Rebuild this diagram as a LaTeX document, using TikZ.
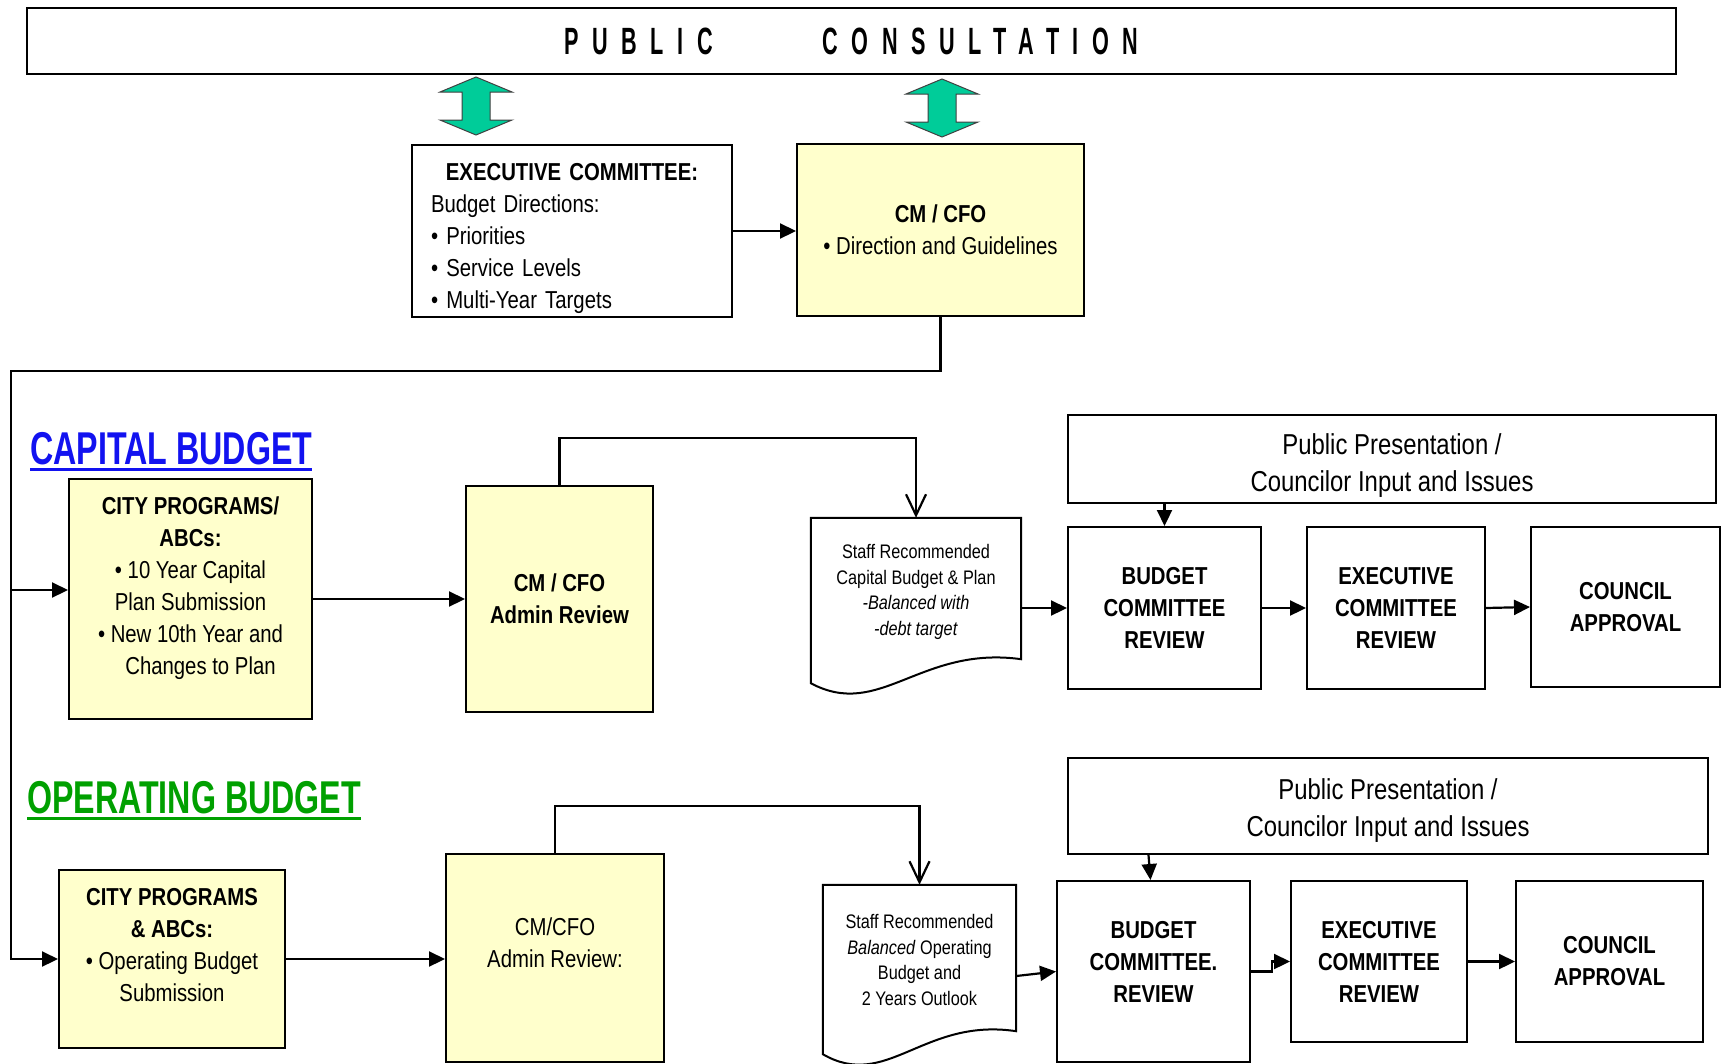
\documentclass[tikz,border=0pt]{standalone}
\usepackage{fontspec}
\setmainfont{Liberation Sans}[FakeStretch=0.83]
\newfontfamily\headfont{Liberation Sans}[FakeStretch=0.7]
\newfontfamily\bannerfont{Liberation Sans}[FakeStretch=0.57,LetterSpace=35.5]
\usetikzlibrary{arrows.meta, positioning, calc}

\definecolor{boxyellow}{RGB}{255,255,204}
\definecolor{arrowgreen}{RGB}{0,204,153}
\definecolor{capblue}{RGB}{18,18,240}
\definecolor{opgreen}{RGB}{0,160,0}

\newcommand{\flowfont}{\fontsize{24.5}{32}\selectfont}
\newcommand{\docfont}{\fontsize{19.6}{25.5}\selectfont}
\newcommand{\pubfont}{\fontsize{28.8}{37}\selectfont}

\begin{document}
\begin{tikzpicture}[x=1pt, y=-1pt,
    box/.style={draw, line width=2pt, align=center, font=\flowfont},
    ybox/.style={box, fill=boxyellow},
    bbox/.style={box, font=\flowfont\bfseries},
    txt/.style={align=center, font=\flowfont},
    docnode/.style={align=center, font=\docfont, inner sep=0pt},
    head/.style={anchor=base west, inner sep=0pt, font={\headfont\bfseries\fontsize{46}{50}\selectfont}},
    greenarrow/.style={fill=arrowgreen, draw=black!75, line width=1pt, line join=miter},
    arr/.style={line width=2.2pt, -{Triangle[length=16pt, width=15pt]}},
    openarr/.style={line width=2.2pt, -{Straight Barb[length=21pt, width=20pt]}}]

    \useasboundingbox (0,0) rectangle (1721,1063);

    % Public consultation banner
    \node[box, line width=2.4pt, minimum width=1649pt, minimum height=66pt,
          font={\bannerfont\bfseries\fontsize{38}{42}\selectfont}] (consult) at (851.5,41)
          {PUBLIC\hspace{110pt}CONSULTATION};

    \foreach \cx/\ty in {476/77, 942/79} {
        \draw[greenarrow] (\cx,\ty) -- ++(36,15) -- ++(-22,0) -- ++(0,28) -- ++(22,0)
            -- ++(-36,15) -- ++(-36,-15) -- ++(22,0) -- ++(0,-28) -- ++(-22,0) -- cycle;
    }

    % Top row
    \node[box, minimum width=320pt, minimum height=172pt] (exec) at (572,231) {};
    \node[txt, align=left, text width=282pt, inner sep=0pt] (exectext) at (572,238)
          {\makebox[\linewidth][c]{\bfseries EXECUTIVE COMMITTEE:}\\
           Budget Directions:\\ \textbullet\ Priorities\\ \textbullet\ Service Levels\\
           \textbullet\ Multi-Year Targets};
    \node[ybox, minimum width=287pt, minimum height=172pt] (cmtop) at (940.5,230)
          {\textbf{CM / CFO}\\ \textbullet\ Direction and Guidelines};
    \draw[arr] (exec.east) -- (exec.east -| cmtop.west);

    % Capital budget
    \node[head, text=capblue] (caphead) at (30,464) {CAPITAL BUDGET};
    \draw[capblue, line width=3pt] ([yshift=-5pt]caphead.base west) -- ([yshift=-5pt]caphead.base east);

    \node[ybox, minimum width=243pt, minimum height=240pt] (capprog) at (190.5,599) {};
    \node[txt] (capprogtext) at (190.5,588)
          {\textbf{CITY PROGRAMS/}\\ \textbf{ABCs:}\\ \textbullet\ 10 Year Capital\\ Plan Submission\\
           \textbullet\ New 10th Year and\\ \hspace*{20pt}Changes to Plan};
    \node[ybox, font=\flowfont\bfseries, minimum width=187pt, minimum height=226pt] (capcm) at (559.5,599)
          {CM / CFO\\ Admin Review};
    \node[docnode, minimum width=210pt, minimum height=141pt] (capdoc) at (916,588.5) {};
    \node[docnode] (capdoctext) at (916,592)
          {Staff Recommended\\ Capital Budget \& Plan\\ \textit{-Balanced with}\\ \textit{-debt target}};
    \draw[line width=2pt] (capdoc.north west) -- (capdoc.north east) -- (capdoc.south east)
          .. controls +(-101,-14) and +(69,37) .. ($(capdoc.south west)+(0,24)$) -- cycle;
    \node[box, minimum width=648pt, minimum height=88pt] (cappub) at (1392,459) {};
    \node[txt, font=\pubfont] (cappubtext) at (1392,466)
          {Public Presentation /\\ Councilor Input and Issues};
    \node[bbox, minimum width=193pt, minimum height=162pt] (capbud) at (1164.5,608)
          {BUDGET\\ COMMITTEE\\ REVIEW};
    \node[bbox, minimum width=178pt, minimum height=162pt] (capexe) at (1396,608)
          {EXECUTIVE\\ COMMITTEE\\ REVIEW};
    \node[bbox, minimum width=189pt, minimum height=160pt] (capcou) at (1625.5,607)
          {COUNCIL\\ APPROVAL};

    \draw[arr] (capprog.east) -- (capprog.east -| capcm.west);
    \draw[openarr] (capcm.north) -- ++(0,-47) -| (capdoc.north);
    \draw[arr] (capdoc.east |- capbud.west) -- (capbud.west);
    \draw[arr] (cappub.south -| capbud.north) -- (capbud.north);
    \draw[arr] (capbud.east) -- (capexe.west);
    \draw[arr] (capexe.east) -- (capcou.west);

    % Operating budget
    \node[head, text=opgreen] (ophead) at (27,813) {OPERATING BUDGET};
    \draw[opgreen, line width=3pt] ([yshift=-5pt]ophead.base west) -- ([yshift=-5pt]ophead.base east);

    \node[ybox, minimum width=226pt, minimum height=178pt] (opprog) at (172,959) {};
    \node[txt] (opprogtext) at (172,945.5)
          {\textbf{CITY PROGRAMS}\\ \textbf{\& ABCs:}\\ \textbullet\ Operating Budget\\ Submission};
    \node[ybox, minimum width=218pt, minimum height=208pt] (opcm) at (555,958) {};
    \node[txt] (opcmtext) at (555,943) {CM/CFO\\ Admin Review:};
    \node[docnode, minimum width=193pt, minimum height=146pt] (opdoc) at (919.5,958) {};
    \node[docnode] (opdoctext) at (919.5,960)
          {Staff Recommended\\ \textit{Balanced} Operating\\ Budget and\\ 2 Years Outlook};
    \draw[line width=2pt] (opdoc.north west) -- (opdoc.north east) -- (opdoc.south east)
          .. controls +(-93,-14) and +(64,37) .. ($(opdoc.south west)+(0,23)$) -- cycle;
    \node[box, minimum width=640pt, minimum height=96pt] (oppub) at (1388,806) {};
    \node[txt, font=\pubfont] (oppubtext) at (1388,811)
          {Public Presentation /\\ Councilor Input and Issues};
    \node[box, minimum width=193pt, minimum height=181pt] (opbud) at (1153.5,971.5) {};
    \node[txt, font=\flowfont\bfseries] (opbudtext) at (1153.5,961.5)
          {BUDGET\\ COMMITTEE.\\ REVIEW};
    \node[bbox, minimum width=176pt, minimum height=161pt] (opexe) at (1379,961.5)
          {EXECUTIVE\\ COMMITTEE\\ REVIEW};
    \node[bbox, minimum width=187pt, minimum height=161pt] (opcou) at (1609.5,961.5)
          {COUNCIL\\ APPROVAL};

    \draw[arr] (opprog.east) -- (opprog.east -| opcm.west);
    \draw[openarr] (opcm.north) -- ++(0,-47) -| (opdoc.north);
    \draw[arr] ([yshift=-18pt]opdoc.east) -- (opbud.west);
    \draw[arr] ([xshift=-5pt]oppub.south -| opbud.north) -- ([xshift=-3pt]opbud.north);
    \draw[arr] (opbud.east) -- ++(21,0) |- (opexe.west);
    \draw[arr] (opexe.east) -- (opcou.west);

    % CM / CFO down to both budgets
    \coordinate (spine) at (11,371);
    \coordinate (capin) at ([yshift=9pt]capprog.west);
    \draw[arr] (cmtop.south) |- (spine) |- (opprog.west);
    \draw[arr] (spine |- capin) -- (capin);
\end{tikzpicture}
\end{document}
